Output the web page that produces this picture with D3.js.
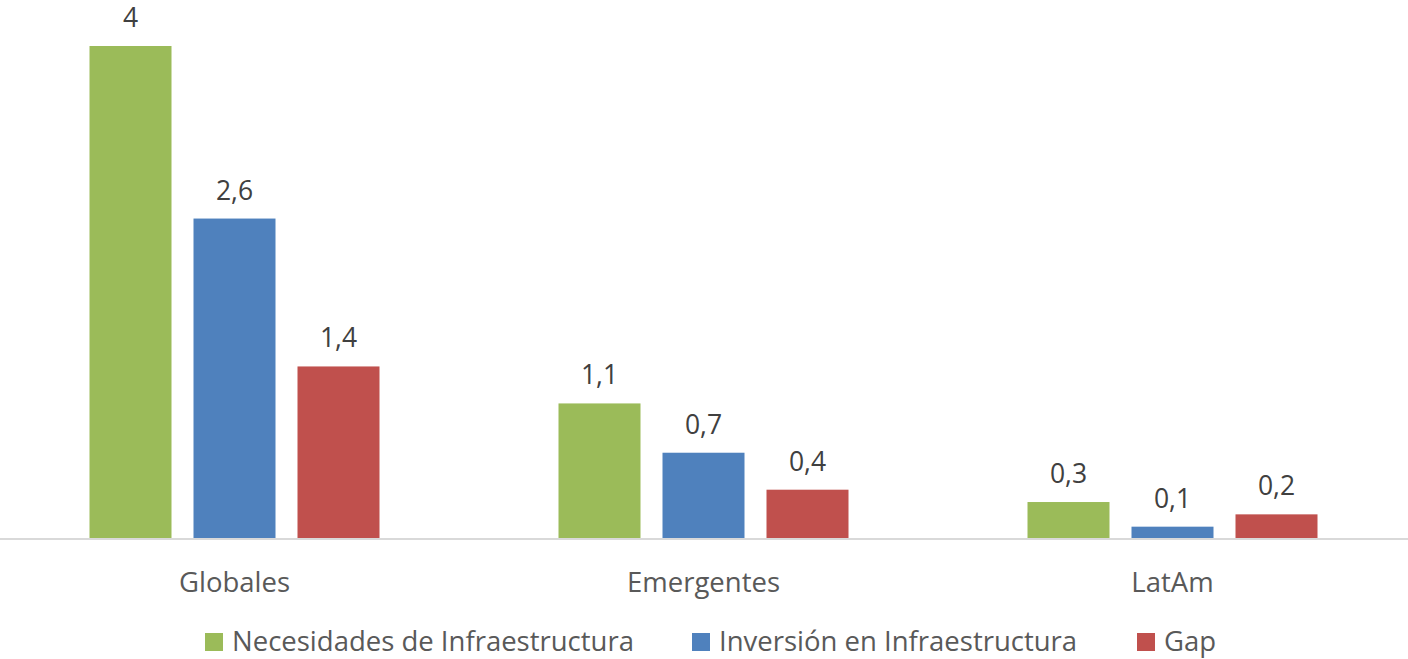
<!DOCTYPE html>
<html>
<head>
<meta charset="utf-8">
<script src="https://cdn.jsdelivr.net/npm/d3@7"></script>
<style>
  html, body { margin: 0; padding: 0; background: #fff; }
</style>
</head>
<body>
<div id="chart"></div>
<script>
// data
const categories = ["Globales", "Emergentes", "LatAm"];
const seriesNames = ["Necesidades de Infraestructura", "Inversión en Infraestructura", "Gap"];
const necesidades = [4, 1.1, 0.3];
const inversion = [2.6, 0.7, 0.1];
const gap = [1.4, 0.4, 0.2];
const seriesColors = ["#9BBB59", "#4F81BD", "#C0504D"];

const width = 1408, height = 659;
const margin = {top: 46, left: 0, right: 1, bottom: 120};
const fontFamily = "'Open Sans', 'Noto Sans', sans-serif";

const allSeries = [necesidades, inversion, gap];
const rows = categories.map((c, i) => ({cat: c, vals: allSeries.map(s => s[i])}));

const svg = d3.select("#chart").append("svg")
  .attr("width", width)
  .attr("height", height)
  .attr("font-family", fontFamily);

const x0 = d3.scaleBand()
  .domain(categories)
  .range([margin.left, width - margin.right])
  .paddingInner(0)
  .paddingOuter(0);

// inner band: 3 bars of 82px with 22px gaps inside a 469px group
const x1 = d3.scaleBand()
  .domain(d3.range(seriesNames.length))
  .range([89.5, x0.bandwidth() - 89.5])
  .paddingInner(22 / 104)
  .paddingOuter(0);

const y = d3.scaleLinear()
  .domain([0, 4])
  .range([height - margin.bottom, margin.top]);

const groups = svg.append("g")
  .selectAll("g")
  .data(rows)
  .join("g")
  .attr("transform", d => `translate(${x0(d.cat)},0)`);

groups.selectAll("rect")
  .data(d => d.vals)
  .join("rect")
  .attr("x", (v, i) => x1(i))
  .attr("y", v => y(v))
  .attr("width", x1.bandwidth())
  .attr("height", v => y(0) - y(v))
  .attr("fill", (v, i) => seriesColors[i]);

// value labels
groups.selectAll("text")
  .data(d => d.vals)
  .join("text")
  .attr("x", (v, i) => x1(i) + x1.bandwidth() / 2)
  .attr("y", v => y(v) - 19)
  .attr("text-anchor", "middle")
  .attr("font-size", 26.5)
  .attr("fill", "#404040")
  .text(v => String(v).replace(".", ","));

// x axis
const xAxis = svg.append("g")
  .attr("transform", `translate(0,${y(0)})`)
  .call(d3.axisBottom(x0).tickSize(0).tickPadding(33));
xAxis.select(".domain").attr("stroke", "#d9d9d9").attr("stroke-width", 2)
  .attr("d", `M0,0H${width}`);
xAxis.selectAll("text")
  .attr("font-family", fontFamily)
  .attr("font-size", 27.5)
  .attr("fill", "#595959");

// legend
const legend = svg.append("g").attr("transform", `translate(0,${height - 8})`);
const legendX = [205, 692, 1137];
seriesNames.forEach((name, i) => {
  const g = legend.append("g").attr("transform", `translate(${legendX[i]},0)`);
  g.append("rect")
    .attr("x", 0).attr("y", -18)
    .attr("width", 18).attr("height", 18)
    .attr("fill", seriesColors[i]);
  g.append("text")
    .attr("x", 27).attr("y", 0)
    .attr("font-size", 27.5)
    .attr("fill", "#595959")
    .text(name);
});
</script>
</body>
</html>
